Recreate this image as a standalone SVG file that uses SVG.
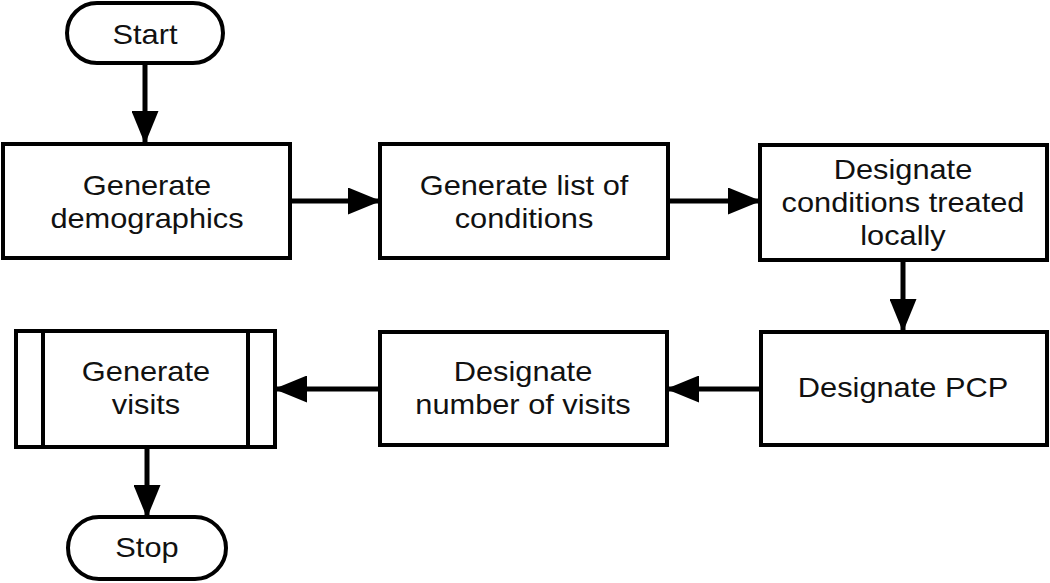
<svg xmlns="http://www.w3.org/2000/svg" width="1050" height="583" viewBox="0 0 1050 583">
<style>
.box{fill:#fff;stroke:#000;stroke-width:4}
.t{font-family:"Liberation Sans",Arial,sans-serif;font-size:27px;fill:#111;text-anchor:middle}
.c{stroke:#000;stroke-width:5;fill:none}
</style>
<defs>
<marker id="ah" markerUnits="userSpaceOnUse" markerWidth="33" markerHeight="27" refX="32" refY="13.5" orient="auto">
<path d="M0,0 L33,13.5 L0,27 Z" fill="#000"/>
</marker>
</defs>
<rect width="1050" height="583" fill="#fff"/>
<g id="connectors">
<line class="c" x1="145" y1="63" x2="145" y2="143" marker-end="url(#ah)"/>
<line class="c" x1="290" y1="201" x2="380" y2="201" marker-end="url(#ah)"/>
<line class="c" x1="668" y1="201" x2="760" y2="201" marker-end="url(#ah)"/>
<line class="c" x1="903" y1="260" x2="903" y2="331" marker-end="url(#ah)"/>
<line class="c" x1="761" y1="389" x2="667" y2="389" marker-end="url(#ah)"/>
<line class="c" x1="380" y1="389" x2="275" y2="389" marker-end="url(#ah)"/>
<line class="c" x1="147" y1="447" x2="147" y2="517" marker-end="url(#ah)"/>
</g>
<g id="start">
<rect class="box" x="67" y="3" width="156" height="60" rx="30"/>
<text class="t" transform="matrix(1.14 0 0 1 145 0)" y="44">Start</text>
</g>
<g id="demographics">
<rect class="box" x="3" y="144" width="287" height="114"/>
<text class="t" transform="matrix(1.14 0 0 1 147 0)" y="195">Generate</text>
<text class="t" transform="matrix(1.14 0 0 1 147 0)" y="228">demographics</text>
</g>
<g id="conditions">
<rect class="box" x="380" y="144" width="288" height="114"/>
<text class="t" transform="matrix(1.14 0 0 1 524 0)" y="195">Generate list of</text>
<text class="t" transform="matrix(1.14 0 0 1 524 0)" y="228">conditions</text>
</g>
<g id="local">
<rect class="box" x="760" y="145" width="287" height="115"/>
<text class="t" transform="matrix(1.14 0 0 1 903 0)" y="179">Designate</text>
<text class="t" transform="matrix(1.14 0 0 1 903 0)" y="212">conditions treated</text>
<text class="t" transform="matrix(1.14 0 0 1 903 0)" y="245">locally</text>
</g>
<g id="pcp">
<rect class="box" x="761" y="332" width="286" height="113"/>
<text class="t" transform="matrix(1.14 0 0 1 903 0)" y="397">Designate PCP</text>
</g>
<g id="numvisits">
<rect class="box" x="380" y="332" width="287" height="113"/>
<text class="t" transform="matrix(1.14 0 0 1 523 0)" y="381">Designate</text>
<text class="t" transform="matrix(1.14 0 0 1 523 0)" y="414">number of visits</text>
</g>
<g id="visits">
<rect class="box" x="16" y="331" width="259" height="116"/>
<line class="box" x1="43" y1="331" x2="43" y2="447"/>
<line class="box" x1="248" y1="331" x2="248" y2="447"/>
<text class="t" transform="matrix(1.14 0 0 1 146 0)" y="381">Generate</text>
<text class="t" transform="matrix(1.14 0 0 1 146 0)" y="414">visits</text>
</g>
<g id="stop">
<rect class="box" x="68" y="517" width="158" height="62" rx="31"/>
<text class="t" transform="matrix(1.14 0 0 1 147 0)" y="557">Stop</text>
</g>
</svg>
